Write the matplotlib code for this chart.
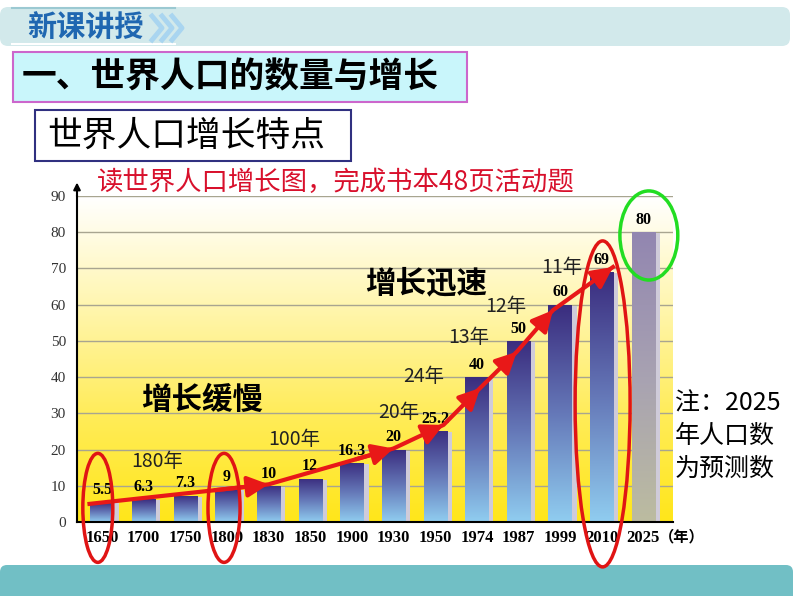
import numpy as np
import matplotlib
matplotlib.use("Agg")
import matplotlib.pyplot as plt
from matplotlib.colors import LinearSegmentedColormap
from matplotlib.patches import Rectangle, Ellipse, FancyBboxPatch

plt.rcParams['font.family'] = ['Noto Sans CJK SC', 'DejaVu Sans']

# World population (100 million people)
years = ["1650", "1700", "1750", "1800", "1830", "1850", "1900", "1930",
         "1950", "1974", "1987", "1999", "2010", "2025"]
population = [5.5, 6.3, 7.3, 9, 10, 12, 16.3, 20, 25.2, 40, 50, 60, 69, 80]
value_labels = ["5.5", "6.3", "7.3", "9", "10", "12", "16.3", "20",
                "25.2", "40", "50", "60", "69", "80"]

# red growth arrow (bar index, value)
trend_x = [-0.3, 4.0, 7.0, 8.2, 9.08, 9.96, 10.83, 12.27]
trend_y = [5.0, 10.4, 20.3, 26.8, 37.0, 47.0, 58.5, 70.4]

# years needed for each +1 billion
period_labels = ["180年", "100年", "20年", "24年", "13年", "12年", "11年"]
period_pos = [(1.32, 16.6), (4.61, 22.7), (7.13, 30.1), (7.73, 40.3),
              (8.81, 50.8), (9.70, 59.4), (11.04, 70.2)]

serif = 'Liberation Serif'

fig = plt.figure(figsize=(7.94, 5.96), dpi=100)

# -------- page decoration (pixel coords) --------
bg = fig.add_axes([0, 0, 1, 1])
bg.set_xlim(0, 794)
bg.set_ylim(596, 0)
bg.axis('off')

bg.add_patch(FancyBboxPatch((0, 7), 790, 39, boxstyle="round,pad=0,rounding_size=8",
                            fc="#d2e9eb", ec="none"))
bg.plot([12, 175], [8, 8], color="#9bc9d2", lw=1.5)
bg.plot([12, 175], [44, 44], color="white", lw=1.5)
bg.text(27, 27, "新课讲授", fontsize=21, fontweight='bold', color="#1f67b1", va='center')
for cx in [152, 162, 172]:
    bg.plot([cx, cx + 10, cx], [16, 28, 40], color="#a9d5f0", lw=3.5)

bg.add_patch(Rectangle((13, 52), 454, 50, fc="#c9f6fb", ec="#cc66cc", lw=1.5))
bg.text(22, 77, "一、世界人口的数量与增长", fontsize=25, fontweight='bold', va='center')

bg.add_patch(Rectangle((35, 110), 316, 51, fc="white", ec="#303080", lw=1.5))
bg.text(47, 136, "世界人口增长特点", fontsize=25, va='center')

bg.text(97, 182, "读世界人口增长图，完成书本48页活动题", fontsize=19, color="#d8102c", va='center')

for yy, line in zip([403, 436, 469], ["注：2025", "年人口数", "为预测数"]):
    bg.text(675, yy, line, fontsize=18, va='center')

bg.add_patch(FancyBboxPatch((0, 565), 793, 40, boxstyle="round,pad=0,rounding_size=7",
                            fc="#71bfc5", ec="none"))

# -------- chart --------
ax = fig.add_axes([77/794, 74/596, 596/794, 326/596])
ax.set_zorder(2)
ax.patch.set_alpha(0)

xmin, xmax = -0.6, 13.71
grad = np.linspace(0, 1, 256).reshape(-1, 1)
bg_cmap = LinearSegmentedColormap.from_list("bgy", ["#ffe61a", "#ffec5a", "#fff6b0", "#ffffff"])
ax.imshow(grad, extent=[xmin, xmax, 0, 90], origin='lower', aspect='auto', cmap=bg_cmap, zorder=0)
ax.hlines(range(10, 100, 10), xmin, xmax, color="#a8a590", lw=1, zorder=1)

x = np.arange(len(years))
w = 0.56
bar_cmap = LinearSegmentedColormap.from_list("bar", ["#90cdf0", "#6578b8", "#3a2c7e"])
fc_cmap = LinearSegmentedColormap.from_list("fc", ["#bcbca0", "#a8a2b2", "#9286b0"])
bars = ax.bar(x, population, width=w, color='none', zorder=2)
for i, b in enumerate(bars):
    v = population[i]
    ax.add_patch(Rectangle((i + w/2, 0), 0.12, v - 0.3, fc="#cfcbd9", lw=0, zorder=1.5))
    cm = fc_cmap if years[i] == "2025" else bar_cmap
    im = ax.imshow(grad, extent=[i - w/2, i + w/2, 0, v], origin='lower',
                   aspect='auto', cmap=cm, zorder=2)
    im.set_clip_path(b)

ax.bar_label(bars, labels=value_labels, padding=3, fontfamily=serif,
             fontweight='bold', fontsize=11.5, zorder=3)

# growth arrows
red = "#e81818"
ax.plot(trend_x, trend_y, color=red, lw=3, zorder=4, clip_on=False)
for i in range(1, len(trend_x)):
    sx = trend_x[i-1] + 0.7 * (trend_x[i] - trend_x[i-1])
    sy = trend_y[i-1] + 0.7 * (trend_y[i] - trend_y[i-1])
    ax.annotate("", xy=(trend_x[i], trend_y[i]), xytext=(sx, sy),
                arrowprops=dict(arrowstyle="-|>,head_length=0.9,head_width=0.45",
                                color=red, lw=3, shrinkA=0, shrinkB=0, mutation_scale=14),
                zorder=4)

for lab, (px, py) in zip(period_labels, period_pos):
    ax.text(px, py, lab, fontsize=14, color="#222222", ha='center', va='center', zorder=5)

ax.text(2.4, 33.7, "增长缓慢", fontsize=22, fontweight='bold', ha='center', va='center', zorder=5)
ax.text(7.78, 66, "增长迅速", fontsize=22, fontweight='bold', ha='center', va='center', zorder=5)

# highlight ellipses
for cx, cy, ew, eh, col in [(-0.1, 3.9, 0.72, 30.1, "#e01414"),
                            (2.93, 3.9, 0.77, 30.1, "#e01414"),
                            (12.02, 32.6, 1.32, 90, "#e01414"),
                            (13.13, 79.1, 1.39, 24.6, "#22dd22")]:
    ax.add_patch(Ellipse((cx, cy), ew, eh, fill=False, ec=col, lw=2.5, clip_on=False, zorder=6))

ax.set_xlim(xmin, xmax)
ax.set_ylim(0, 90)
ax.set_xticks(x, years)
ax.set_yticks(range(0, 100, 10))
for t in ax.get_xticklabels():
    t.set_fontfamily(serif)
    t.set_fontweight('bold')
    t.set_fontsize(12)
for t in ax.get_yticklabels():
    t.set_fontfamily(serif)
    t.set_fontsize(11)
    t.set_color("#333333")
ax.tick_params(axis='x', length=0, pad=6)
ax.tick_params(axis='y', length=0, pad=8)
ax.text(13.36, -0.043, "（年）", transform=ax.get_xaxis_transform(), fontsize=11,
        fontweight='bold', va='center', ha='left')

for s in ['top', 'right']:
    ax.spines[s].set_visible(False)
for s in ['left', 'bottom']:
    ax.spines[s].set_linewidth(1.5)
    ax.spines[s].set_zorder(5)
ax.annotate("", xy=(0, 1.05), xycoords='axes fraction', xytext=(0, 0.99),
            arrowprops=dict(arrowstyle='-|>', color='k', lw=1.5, mutation_scale=10))

fig.savefig("out.png", dpi=100)
